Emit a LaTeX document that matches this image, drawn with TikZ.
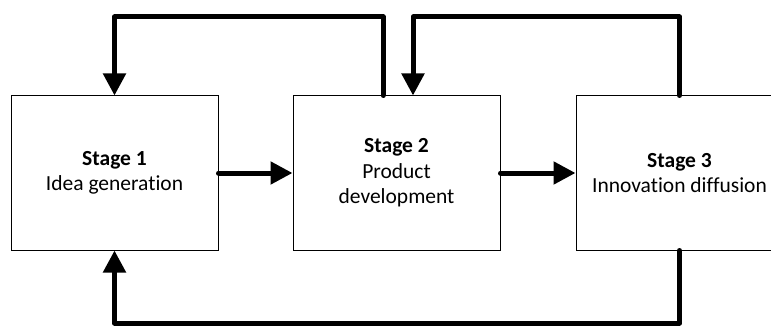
\documentclass[tikz,border=0pt]{standalone}
\usepackage{fontspec}
\setmainfont{Carlito}[Ligatures=NoCommon]
\usetikzlibrary{arrows.meta}
\begin{document}
\begin{tikzpicture}[x=1pt,y=-1pt,
  stagebox/.style={draw=black,line width=1pt,minimum width=207pt,minimum height=154pt,
    align=center,inner sep=0pt,font=\fontsize{21.5}{25.5}\selectfont},
  flow/.style={line width=5pt,line cap=round,line join=round,
    -{Triangle[length=22pt,width=22pt]}}]
\useasboundingbox (0,0) rectangle (771,326);
\node[stagebox] (box1) at (114.5,173) {\textbf{Stage 1}\\Idea generation};
\node[stagebox] (box2) at (396.5,173) {\textbf{Stage 2}\\Product\\development};
\node[stagebox] (box3) at (679.5,173) {\textbf{Stage 3}\\Innovation diffusion};
\coordinate (t1) at (383,17);
\coordinate (t2) at (413,17);
\coordinate (b1) at (400,323);
\draw[flow] (box1.east) -- (box2.west);
\draw[flow] (box2.east) -- (box3.west);
\draw[flow] (t1 |- box2.north) -- (t1) -| (box1.north);
\draw[flow] (box3.north) |- (t2) -- (t2 |- box2.north);
\draw[flow] (box3.south) |- (b1) -| (box1.south);
\end{tikzpicture}
\end{document}
